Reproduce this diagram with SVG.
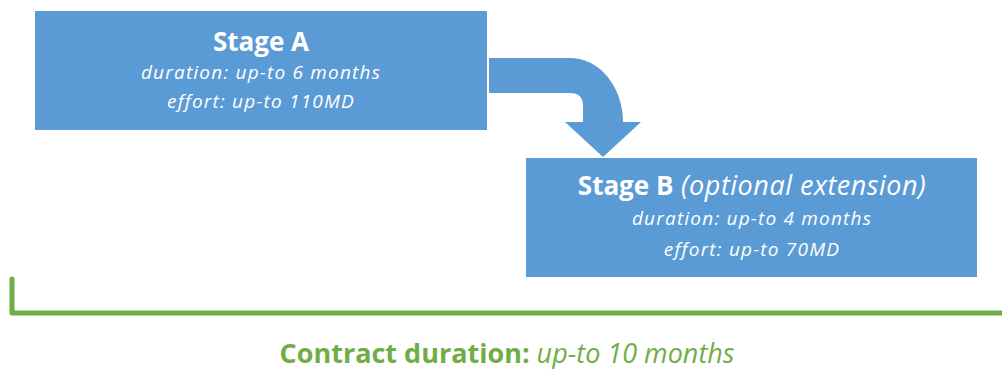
<svg xmlns="http://www.w3.org/2000/svg" width="1002" height="369" viewBox="0 0 1002 369">
<style>
.box{fill:#5B9BD5}
.t{font-family:"Open Sans","Liberation Sans",sans-serif;fill:#fff;text-anchor:middle}
.h{font-weight:bold;font-size:26px}
.i{font-style:italic;font-size:19px;letter-spacing:1.2px}
.big{font-style:italic;font-size:27px;letter-spacing:0.5px}
.g{font-family:"Open Sans","Liberation Sans",sans-serif;fill:#70AD47;font-size:27px;text-anchor:middle}
</style>
<rect width="1002" height="369" fill="#fff"/>
<g id="stageA">
<rect class="box" x="35" y="11" width="452" height="119"/>
<text class="t h" x="261" y="51">Stage A</text>
<text class="t i" x="261" y="79">duration: up-to 6 months</text>
<text class="t i" x="261" y="108">effort: up-to 110MD</text>
</g>
<g id="stageB">
<rect class="box" x="526" y="158" width="451" height="119"/>
<text class="t" x="752" y="195"><tspan class="h">Stage B</tspan><tspan class="big"> (optional extension)</tspan></text>
<text class="t i" x="752" y="225">duration: up-to 4 months</text>
<text class="t i" x="752" y="256">effort: up-to 70MD</text>
</g>
<g id="connectors">
<path fill="#5B9BD5" d="M489 58 L570 58 A53 64 0 0 1 623 122 L641 122 L603 157 L565 122 L583 122 L583 106 Q583 93 570 93 L489 93 Z"/>
<path d="M12 279 L12 313 L1002 313" fill="none" stroke="#70AD47" stroke-width="5" stroke-linecap="round" stroke-linejoin="round"/>
</g>
<g id="contract">
<text class="g" x="507" y="363"><tspan font-weight="bold">Contract duration:</tspan><tspan font-style="italic"> up-to 10 months</tspan></text>
</g>
</svg>
